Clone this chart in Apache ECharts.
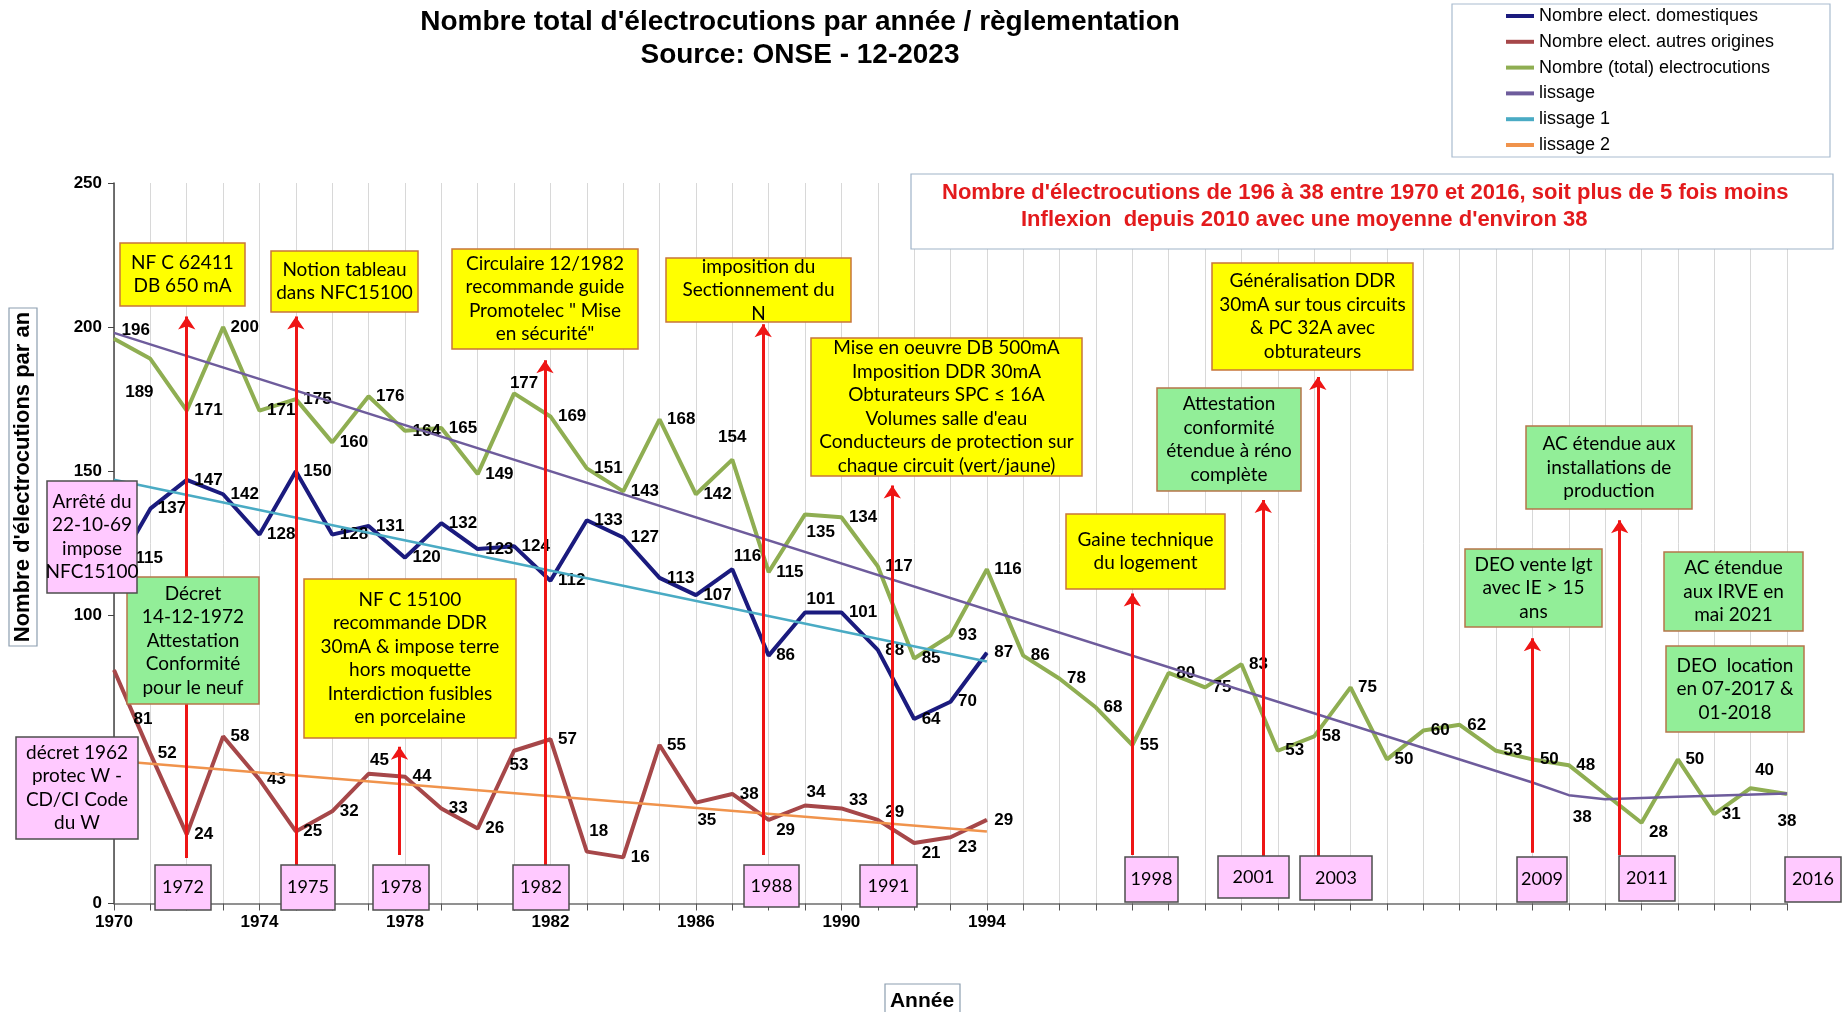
<!DOCTYPE html>
<html>
<head>
<meta charset="utf-8">
<title>Nombre total d'électrocutions par année</title>
<script src="https://cdn.jsdelivr.net/npm/echarts@6/dist/echarts.min.js"></script>
<style>
  html, body { margin: 0; padding: 0; background: #ffffff; }
  #chart { width: 1847px; height: 1012px; }
</style>
</head>
<body>
<div id="chart"></div>
<script>
// --- data ---
const years = [1970, 1971, 1972, 1973, 1974, 1975, 1976, 1977, 1978, 1979,
  1980, 1981, 1982, 1983, 1984, 1985, 1986, 1987, 1988, 1989,
  1990, 1991, 1992, 1993, 1994, 1995, 1996, 1997, 1998, 1999,
  2000, 2001, 2002, 2003, 2004, 2005, 2006, 2007, 2008, 2009,
  2010, 2011, 2012, 2013, 2014, 2015, 2016]
const domestic = [115, 137, 147, 142, 128, 150, 128, 131, 120, 132, 123, 124, 112,
  133, 127, 113, 107, 116, 86, 101, 101, 88, 64, 70, 87]
const otherOrigins = [81, 52, 24, 58, 43, 25, 32, 45, 44, 33, 26, 53, 57,
  18, 16, 55, 35, 38, 29, 34, 33, 29, 21, 23, 29]
const total = [196, 189, 171, 200, 171, 175, 160, 176, 164, 165, 149, 177, 169,
  151, 143, 168, 142, 154, 115, 135, 134, 117, 85, 93, 116, 86, 78, 68, 55, 80,
  75, 83, 53, 58, 75, 50, 60, 62, 53, 50, 48, 38, 28, 50, 31, 40, 38]

// trend lines (lissage)
const smoothYears = [1970, 2009, 2010, 2011, 2013, 2016]
const smoothValues = [198, 42, 37.6, 36.2, 37, 38.2]
const smooth1Years = [1970, 1994]
const smooth1Values = [147, 84]
const smooth2Years = [1970, 1994]
const smooth2Values = [49.5, 25]

// regulation arrows
const arrowYears = [1972, 1975, 1977.85, 1981.85, 1987.85, 1991.4, 1998, 2001.6, 2003.1, 2009, 2011.4]
const arrowBottom = [15.8, 13.4, 16.8, 13.4, 16.8, 13, 16.8, 12.8, 12.3, 17.6, 16.8]
const arrowTop = [203.7, 203.7, 54.4, 188.5, 201, 145, 107.6, 140, 182.7, 92, 133]

const xTickLabels = [1970, 1974, 1978, 1982, 1986, 1990, 1994]
const yTicks = [0, 50, 100, 150, 200, 250]

// label placement codes per point
const totalPlace = ['ru', 'bb', 'r', 'r', 'r', 'r', 'r', 'r', 'r', 'r', 'r', 'tq', 'r',
  'r', 'r', 'r', 'r', 't', 'r', 'br', 'r', 'r', 'r', 'r', 'r',
  'r', 'r', 'r', 'r', 'r', 'r', 'r', 'r', 'r', 'r', 'r', 'r', 'r', 'r', 'r', 'r',
  'bl', 'rd', 'r', 'r', 'ru2', 'b']
const domesticPlace = ['far', 'r', 'r', 'r', 'r', 'r', 'r', 'r', 'r', 'r', 'r', 'r', 'r',
  'r', 'r', 'r', 'r', 'tr', 'r', 'tr', 'r', 'r', 'r', 'r', 'r']
const otherPlace = ['x81', 'r', 'r', 'r', 'r', 'r', 'r', 'tr', 'r', 'r', 'r', 'bq', 'r',
  'tq2', 'r', 'r', 'br', 'r', 'rd', 'tr', 'ru', 'ru', 'rd', 'rd', 'r']

const PLACE = {
  r: { position: 'right', distance: 7 },
  ru: { position: 'right', distance: 7, offset: [0, -8] },
  ru2: { position: 'right', distance: 4, offset: [0, -18] },
  rd: { position: 'right', distance: 7, offset: [0, 10] },
  tr: { position: 'right', distance: 1, offset: [0, -13] },
  br: { position: 'right', distance: 1, offset: [0, 18] },
  t: { position: 'top', distance: 13 },
  tq: { position: 'top', distance: 1, offset: [10, 0] },
  tq2: { position: 'top', distance: 11, offset: [12, 0] },
  b: { position: 'bottom', distance: 18 },
  bq: { position: 'bottom', distance: 6, offset: [5, 0] },
  bb: { position: 'bottom', distance: 11, offset: [-11, 14] },
  bl: { position: 'left', distance: 13, offset: [0, 23] },
  far: { position: 'right', distance: 21, offset: [0, -14] },
  x81: { position: 'right', distance: 19, offset: [0, 49] }
}

const BLUE = '#1b1b7e'
const RED = '#a64749'
const GREEN = '#8fae52'
const PURPLE = '#6e5c9c'
const TEAL = '#4aabc4'
const ORANGE = '#f0934c'
const ARROW = '#ee1515'
const YELLOW = '#ffff00'
const MINT = '#92ee98'
const PINK = '#ffc9ff'
const BOX_FONT = 'Lato, "Open Sans", sans-serif'
const ARIAL = '"Liberation Sans", Arial, sans-serif'

function points(xs, values, place) {
  return values.map((v, i) => {
    const item = { value: [xs[i], v] }
    if (place) {
      item.label = PLACE[place[i]]
    }
    return item
  })
}

function dataLine(name, color, xs, values, place) {
  return {
    name,
    type: 'line',
    symbol: 'circle',
    symbolSize: 1,
    itemStyle: { color },
    lineStyle: { color, width: 4 },
    label: {
      show: true,
      color: '#000',
      fontSize: 17,
      fontWeight: 'bold',
      fontFamily: ARIAL,
      formatter: p => p.value[1]
    },
    data: points(xs, values, place),
    z: 3
  }
}

function trendLine(name, color, xs, values) {
  return {
    name,
    type: 'line',
    symbol: 'none',
    itemStyle: { color },
    lineStyle: { color, width: 2.5 },
    data: points(xs, values),
    z: 4
  }
}

function box(x, y, w, h, text, fill, stroke, fontSize) {
  return {
    type: 'rect',
    x,
    y,
    z: 100,
    shape: { x: 0, y: 0, width: w, height: h },
    style: { fill, stroke, lineWidth: 1.5 },
    textContent: {
      style: {
        text,
        fill: '#000',
        font: `${fontSize || 19}px ${BOX_FONT}`,
        align: 'center',
        verticalAlign: 'middle',
        lineHeight: 23.5
      },
      z: 101
    },
    textConfig: { position: 'inside' }
  }
}

const yellowBoxes = [
  box(120, 243, 125, 63, 'NF C 62411\nDB 650 mA', YELLOW, '#c8763a'),
  box(271, 251, 147, 61, 'Notion tableau\ndans NFC15100', YELLOW, '#c8763a'),
  box(452, 249, 186, 100, 'Circulaire 12/1982\nrecommande guide\nPromotelec " Mise\nen sécurité"', YELLOW, '#c8763a'),
  box(666, 258, 185, 64, 'imposition du\nSectionnement du\nN', YELLOW, '#c8763a'),
  box(811, 338, 271, 138, 'Mise en oeuvre DB 500mA\nImposition DDR 30mA\nObturateurs SPC ≤ 16A\nVolumes salle d\'eau\nConducteurs de protection sur\nchaque circuit (vert/jaune)', YELLOW, '#c8763a'),
  box(1066, 514, 159, 75, 'Gaine technique\ndu logement', YELLOW, '#c8763a'),
  box(1212, 263, 201, 107, 'Généralisation DDR\n30mA sur tous circuits\n& PC 32A avec\nobturateurs', YELLOW, '#c8763a'),
  box(304, 579, 212, 159, 'NF C 15100\nrecommande DDR\n30mA & impose terre\nhors moquette\nInterdiction fusibles\nen porcelaine', YELLOW, '#c8763a')
]

const greenBoxes = [
  box(127, 577, 132, 127, 'Décret\n14-12-1972\nAttestation\nConformité\npour le neuf', MINT, '#b5764a'),
  box(1157, 388, 144, 103, 'Attestation\nconformité\nétendue à réno\ncomplète', MINT, '#b5764a'),
  box(1526, 426, 166, 83, 'AC étendue aux\ninstallations de\nproduction', MINT, '#b5764a'),
  box(1465, 549, 137, 78, 'DEO vente lgt\navec IE > 15\nans', MINT, '#b5764a'),
  box(1664, 552, 139, 79, 'AC étendue\naux IRVE en\nmai 2021', MINT, '#b5764a'),
  box(1666, 646, 138, 86, 'DEO  location\nen 07-2017 &\n01-2018', MINT, '#b5764a')
]

const pinkBoxes = [
  box(47, 481, 90, 112, 'Arrêté du\n22-10-69\nimpose\nNFC15100', PINK, '#4d4d4d'),
  box(16, 737, 122, 102, 'décret 1962\nprotec W -\nCD/CI Code\ndu W', PINK, '#4d4d4d'),
  box(155, 865, 56, 45, '1972', PINK, '#4d4d4d', 18),
  box(281, 865, 54, 45, '1975', PINK, '#4d4d4d', 18),
  box(373, 865, 56, 45, '1978', PINK, '#4d4d4d', 18),
  box(513, 865, 56, 45, '1982', PINK, '#4d4d4d', 18),
  box(744, 865, 55, 42, '1988', PINK, '#4d4d4d', 18),
  box(860, 865, 57, 42, '1991', PINK, '#4d4d4d', 18),
  box(1125, 857, 53, 45, '1998', PINK, '#4d4d4d', 18),
  box(1218, 856, 71, 42, '2001', PINK, '#4d4d4d', 18),
  box(1300, 856, 72, 44, '2003', PINK, '#4d4d4d', 18),
  box(1517, 857, 50, 45, '2009', PINK, '#4d4d4d', 18),
  box(1619, 856, 56, 45, '2011', PINK, '#4d4d4d', 18),
  box(1785, 857, 56, 45, '2016', PINK, '#4d4d4d', 18)
]

const chart = echarts.init(document.getElementById('chart'))

chart.setOption({
  animation: false,
  backgroundColor: '#ffffff',
  title: {
    text: 'Nombre total d\'électrocutions par année / règlementation\nSource: ONSE - 12-2023',
    left: 795,
    top: 1,
    textAlign: 'center',
    textStyle: {
      fontFamily: '"Liberation Sans Narrow", ' + ARIAL,
      fontSize: 28,
      fontWeight: 'bold',
      color: '#000',
      lineHeight: 33
    }
  },
  legend: {
    orient: 'vertical',
    left: 1506,
    top: 7,
    padding: 0,
    icon: 'rect',
    itemWidth: 28,
    itemHeight: 4,
    itemGap: 7.8,
    textStyle: { fontSize: 18, fontFamily: ARIAL, color: '#000', lineHeight: 18 },
    data: [
      'Nombre elect. domestiques',
      'Nombre elect. autres origines',
      'Nombre (total) electrocutions',
      'lissage',
      'lissage 1',
      'lissage 2'
    ]
  },
  grid: {
    left: 114,
    right: 60,
    top: 183,
    bottom: 108.5,
    containLabel: false
  },
  xAxis: {
    type: 'value',
    min: 1970,
    max: 2016,
    interval: 1,
    axisLine: { lineStyle: { color: '#6e6e6e', width: 1.5 } },
    axisTick: { show: true, length: 7, lineStyle: { color: '#555' } },
    axisLabel: {
      margin: 10,
      fontSize: 17,
      fontWeight: 'bold',
      fontFamily: ARIAL,
      color: '#000',
      formatter: v => (xTickLabels.includes(v) ? String(v) : '')
    },
    splitLine: { show: true, lineStyle: { color: '#d8d8d8', width: 1 } }
  },
  yAxis: {
    type: 'value',
    min: yTicks[0],
    max: yTicks[yTicks.length - 1],
    interval: 50,
    axisLine: { show: true, lineStyle: { color: '#444', width: 1.5 } },
    axisTick: { show: true, length: 6, lineStyle: { color: '#444' } },
    axisLabel: { margin: 12, fontSize: 17, fontWeight: 'bold', fontFamily: ARIAL, color: '#000' },
    splitLine: { show: false }
  },
  graphic: [
    // y axis title
    {
      type: 'rect',
      x: 9, y: 308, z: 100,
      shape: { width: 28, height: 338 },
      style: { fill: '#fff', stroke: '#8c9eb0', lineWidth: 1.2 }
    },
    {
      type: 'text',
      x: 23, y: 477, z: 101,
      rotation: Math.PI / 2,
      style: {
        text: 'Nombre d\'électrocutions par an',
        font: 'bold 22px ' + ARIAL,
        fill: '#000',
        align: 'center',
        verticalAlign: 'middle'
      }
    },
    // x axis title
    {
      type: 'rect',
      x: 885, y: 984, z: 100,
      shape: { width: 75, height: 32 },
      style: { fill: '#fff', stroke: '#8c9eb0', lineWidth: 1.2 }
    },
    {
      type: 'text',
      x: 922, y: 1001, z: 101,
      style: {
        text: 'Année',
        font: 'bold 21px ' + ARIAL,
        fill: '#000',
        align: 'center',
        verticalAlign: 'middle'
      }
    },
    // legend frame
    {
      type: 'rect',
      x: 1452, y: 4, z: 50,
      shape: { width: 378, height: 153 },
      style: { fill: 'none', stroke: '#a9bccf', lineWidth: 1.2 }
    },
    // red comment box
    {
      type: 'rect',
      x: 911, y: 174, z: 100,
      shape: { width: 922, height: 75 },
      style: { fill: '#fff', stroke: '#9fb3c8', lineWidth: 1.2 }
    },
    {
      type: 'text',
      x: 942, y: 193, z: 101,
      style: {
        text: 'Nombre d\'électrocutions de 196 à 38 entre 1970 et 2016, soit plus de 5 fois moins',
        font: 'bold 22px ' + ARIAL,
        fill: '#e31a1c',
        align: 'left',
        verticalAlign: 'middle'
      }
    },
    {
      type: 'text',
      x: 1021, y: 220, z: 101,
      style: {
        text: 'Inflexion  depuis 2010 avec une moyenne d\'environ 38',
        font: 'bold 22px ' + ARIAL,
        fill: '#e31a1c',
        align: 'left',
        verticalAlign: 'middle'
      }
    },
    ...yellowBoxes,
    ...greenBoxes,
    ...pinkBoxes
  ],
  series: [
    dataLine('Nombre elect. domestiques', BLUE, years, domestic, domesticPlace),
    dataLine('Nombre elect. autres origines', RED, years, otherOrigins, otherPlace),
    dataLine('Nombre (total) electrocutions', GREEN, years, total, totalPlace),
    trendLine('lissage', PURPLE, smoothYears, smoothValues),
    trendLine('lissage 1', TEAL, smooth1Years, smooth1Values),
    trendLine('lissage 2', ORANGE, smooth2Years, smooth2Values),
    {
      name: 'arrows',
      type: 'lines',
      coordinateSystem: 'cartesian2d',
      symbol: ['none', 'arrow'],
      symbolSize: 13,
      lineStyle: { color: ARROW, width: 3, opacity: 1, curveness: 0 },
      z: 6,
      data: arrowYears.map((yr, i) => ({
        coords: [[yr, arrowBottom[i]], [yr, arrowTop[i]]]
      }))
    }
  ]
})
</script>
</body>
</html>
